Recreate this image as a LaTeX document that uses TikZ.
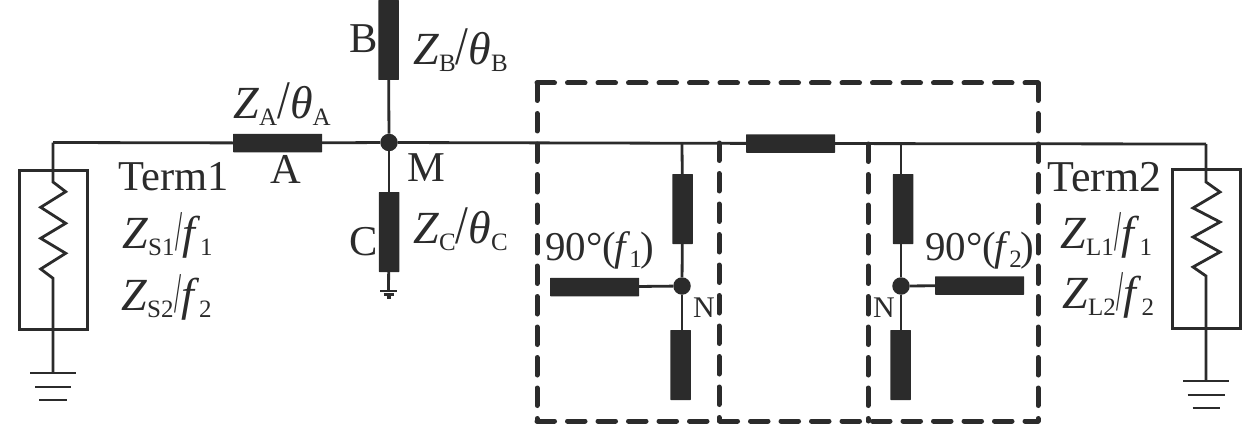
\documentclass[tikz,border=0pt]{standalone}
\usepackage{fontspec}
\setmainfont{Liberation Serif}
\definecolor{ink}{HTML}{2B2B2B}
\newcommand{\subt}[1]{\raisebox{-7pt}{\fontsize{25}{25}\selectfont #1}}
\newcommand{\zover}[3]{\textit{#1}\subt{#2}\scalebox{1}[1.18]{/}\textit{#3}}
\newcommand{\zfreq}[3]{\textit{#1}\subt{#2}\kern0.5pt\raisebox{-2pt}{\scalebox{0.55}[1.25]{/}}\textit{f}\subt{#3}}
\newcommand{\degfreq}[1]{90°(\kern-2pt\textit{f}\kern-1pt\subt{#1}\kern-1pt)}
\tikzset{
  wire/.style={ink,line width=2.8pt},
  tline/.style={fill=ink,inner sep=0pt,rounded corners=0.5pt},
  hline/.style={tline,minimum width=89pt,minimum height=18.5pt},
  vline/.style={tline,minimum width=20.5pt,minimum height=70pt},
  dot/.style={circle,fill=ink,inner sep=0pt,minimum size=17.5pt},
  termbox/.style={draw=ink,line width=3pt,inner sep=0pt,minimum width=68pt,minimum height=159pt},
  outline/.style={ink,line width=5pt,line cap=round,dash pattern=on 17.5pt off 13pt},
  lab/.style={ink,anchor=base west,inner sep=0pt,font=\fontsize{42.5}{42.5}\selectfont},
  zlab/.style={lab,font=\fontsize{46}{46}\selectfont},
  midlab/.style={lab,font=\fontsize{41}{41}\selectfont},
  tinylab/.style={lab,font=\fontsize{30}{30}\selectfont}
}
\begin{document}
\begin{tikzpicture}[x=1pt,y=-1pt]
\useasboundingbox (0,0) rectangle (1260,425);

\coordinate (cornerL) at (53,142.5);
\coordinate (cornerR) at (1206,144);
\coordinate (tapL) at (682,143);
\coordinate (tapR) at (901,144);
\coordinate (gndL) at (53,373);
\coordinate (gndR) at (1206,381);
\coordinate (gndC) at (388.5,291);
\coordinate (dashTL) at (537,83);
\coordinate (dashTR) at (1038,83);
\coordinate (dashBL) at (537,421);
\coordinate (dashBR) at (1038,421);
\coordinate (dashL) at (719,143);
\coordinate (dashLb) at (719,421);
\coordinate (dashR) at (868,144);
\coordinate (dashRb) at (868,421);

% series and shunt lines
\node[hline] (lineA) at (277.5,143) {};
\node[vline,minimum height=80pt] (lineB) at (388.5,40) {};
\node[vline,minimum height=80pt] (lineC) at (389,232) {};
\node[hline] (lineD) at (790.5,143.5) {};
\node[dot] (M) at (389,142.5) {};

% stubs, both sides
\node[dot] (NL) at (682,286) {};
\node[vline] (upL) at (682.5,209) {};
\node[hline] (sideL) at (594.5,287) {};
\node[vline] (lowL) at (680.5,365) {};
\node[dot] (NR) at (901,286) {};
\node[vline] (upR) at (903,209) {};
\node[hline] (sideR) at (979.5,285.5) {};
\node[vline] (lowR) at (900.5,365) {};

% terminations
\node[termbox] (termL) at (53,250) {};
\node[termbox] (termR) at (1206.5,249) {};

\draw[wire] (cornerL) -- (lineA);
\draw[wire] (lineA) -- (M);
\draw[wire] (M) -- (lineD);
\draw[wire] (lineD) -- (cornerR);
\draw[wire] (lineB) -- (M);
\draw[wire] (M) -- (lineC);
\draw[wire] (lineC) -- (gndC);
\draw[wire] (tapL) -- (upL);
\draw[wire] (upL) -- (NL);
\draw[wire] (NL) -- (sideL);
\draw[wire] (NL) -- (NL |- lowL.north);
\draw[wire] (tapR) -- (tapR |- upR.north);
\draw[wire] (NR |- upR.south) -- (NR);
\draw[wire] (NR) -- (sideR);
\draw[wire] (NR) -- (NR |- lowR.north);

% resistors
\draw[wire,line join=miter] (cornerL) -- (53,182) -- (65.7,191.7) -- (40.7,207.3) -- (65.7,223.3)
  -- (40.7,238.3) -- (65.7,253.3) -- (40.7,269) -- (53,278.3) -- (gndL);
\draw[wire,line join=miter] (cornerR) -- (1206,182) -- (1220,192) -- (1193,208) -- (1220,222)
  -- (1193,237) -- (1220,252) -- (1193,267) -- (1206,276) -- (gndR);

% grounds
\foreach \g/\ga/\gb/\gc in {gndL/23/18/14, gndR/23/18.5/13.5}
{
  \draw[wire] ([xshift=-\ga pt]\g) -- ([xshift=\ga pt]\g);
  \draw[wire] ([xshift=-\gb pt,yshift=-14pt]\g) -- ([xshift=\gb pt,yshift=-14pt]\g);
  \draw[wire] ([xshift=-\gc pt,yshift=-27pt]\g) -- ([xshift=\gc pt,yshift=-27pt]\g);
}
\draw[wire] ([xshift=-8.5pt]gndC) -- ([xshift=8.5pt]gndC);
\draw[wire] ([xshift=-5pt,yshift=-3.5pt]gndC) -- ([xshift=5pt,yshift=-3.5pt]gndC);
\draw[wire] ([xshift=-2pt,yshift=-6.5pt]gndC) -- ([xshift=2pt,yshift=-6.5pt]gndC);

% dashed enclosure
\draw[outline] (dashTL) -- (dashTR);
\draw[outline] (dashTL) -- (dashBL);
\draw[outline] (dashTR) -- (dashBR);
\draw[outline] (dashBL) -- (dashBR);
\draw[outline] (dashL) -- (dashLb);
\draw[outline] (dashR) -- (dashRb);

% labels
\node[zlab] (zA) at (233,118) {\zover{Z}{A}{θ}\subt{A}};
\node[lab] (nameA) at (270,183) {A};
\node[lab] (nameB) at (349,53) {B};
\node[zlab] (zB) at (413,65) {\zover{Z}{B}{θ}\subt{B}};
\node[lab] (nameM) at (407,181) {M};
\node[lab] (nameC) at (349,255) {C};
\node[zlab] (zC) at (413,243) {\zover{Z}{C}{θ}\subt{C}};
\node[lab] (term1) at (118,190) {Term1};
\node[zlab] (zS1) at (122,248) {\zfreq{Z}{S1}{1}};
\node[zlab] (zS2) at (121,310) {\zfreq{Z}{S2}{2}};
\node[midlab] (degL) at (545,260) {\degfreq{1}};
\node[midlab] (degR) at (925,260) {\degfreq{2}};
\node[tinylab] (labNL) at (693,317) {N};
\node[tinylab] (labNR) at (873,317) {N};
\node[lab,font=\fontsize{44}{44}\selectfont] (term2) at (1047,191) {Term2};
\node[zlab] (zL1) at (1060,248) {\zfreq{Z}{L1}{1}};
\node[zlab] (zL2) at (1062,308) {\zfreq{Z}{L2}{2}};
\end{tikzpicture}
\end{document}
